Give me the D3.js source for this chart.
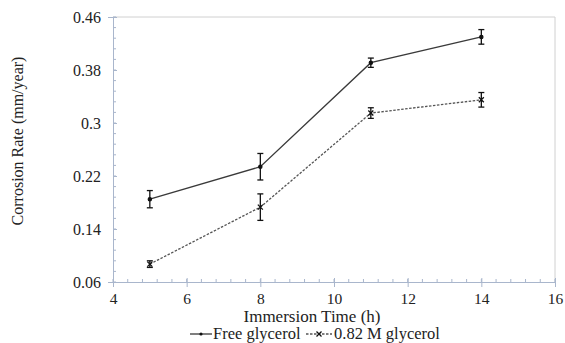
<!DOCTYPE html>
<html lang="en">
<head>
  <meta charset="UTF-8">
  <title>Corrosion Rate vs Immersion Time</title>
  <style>
    body { margin: 0; background: #fff; }
  </style>
</head>
<body>
  <svg width="565" height="343"></svg>
  <script src="https://d3js.org/d3.v7.min.js"></script>
  <script>
    const times = [5, 8, 11, 14];
    const freeGlycerol = [0.185, 0.234, 0.391, 0.430];
    const freeErr = [0.013, 0.020, 0.007, 0.011];
    const glycerol082 = [0.087, 0.173, 0.315, 0.335];
    const glycerolErr = [0.005, 0.020, 0.008, 0.011];
    const xTicks = [4, 6, 8, 10, 12, 14, 16];
    const yTicks = [0.06, 0.14, 0.22, 0.3, 0.38, 0.46];

    const svg = d3.select("svg");
    const m = { left: 113, right: 555, top: 17, bottom: 282 };
    const x = d3.scaleLinear().domain([4, 16]).range([m.left, m.right]);
    const y = d3.scaleLinear().domain([0.06, 0.46]).range([m.bottom, m.top]);
    const axisColor = "#a9b6cc";
    const serif = "'Liberation Serif', 'Times New Roman', serif";
    const txt = (sel, size) => sel.style("font-family", serif).style("font-size", (size || 16) + "px").attr("fill", "#222");

    // frame (top and right)
    svg.append("path")
      .attr("d", `M${m.left},${m.top}H${m.right}V${m.bottom}`)
      .attr("fill", "none").attr("stroke", "#d0d0d0");

    // minor ticks
    const xMinor = d3.range(4, 16.001, 0.4);
    svg.append("g").selectAll("line").data(xMinor).join("line")
      .attr("x1", d => x(d)).attr("x2", d => x(d))
      .attr("y1", m.bottom).attr("y2", m.bottom - 3)
      .attr("stroke", axisColor);
    const yMinor = d3.range(0.06, 0.4601, 0.016);
    svg.append("g").selectAll("line").data(yMinor).join("line")
      .attr("x1", m.left).attr("x2", m.left + 3)
      .attr("y1", d => y(d)).attr("y2", d => y(d))
      .attr("stroke", axisColor);

    // axes
    const xAxis = svg.append("g").attr("transform", `translate(0,${m.bottom})`)
      .call(d3.axisBottom(x).tickValues(xTicks).tickSize(5).tickFormat(d3.format("d")));
    const yAxis = svg.append("g").attr("transform", `translate(${m.left},0)`)
      .call(d3.axisLeft(y).tickValues(yTicks).tickSize(5).tickFormat(d => String(d)));
    [xAxis, yAxis].forEach(g => {
      g.select(".domain").attr("stroke", axisColor);
      g.selectAll(".tick line").attr("stroke", axisColor);
    });
    xAxis.selectAll(".tick text").call(txt, 15.5);
    yAxis.selectAll(".tick text").call(txt, 16);
    xAxis.selectAll(".tick line").attr("y1", -4);
    xAxis.selectAll(".tick text").attr("dy", null).attr("y", 22);
    yAxis.selectAll(".tick line").attr("x2", 4);
    yAxis.selectAll(".tick text").attr("x", -12);

    // axis titles
    svg.append("text").attr("x", 312).attr("y", 322)
      .attr("text-anchor", "middle").call(txt, 17)
      .text("Immersion Time (h)");
    svg.append("text").attr("transform", "translate(23,141) rotate(-90)")
      .attr("text-anchor", "middle").call(txt, 16)
      .text("Corrosion Rate (mm/year)");

    const lineColor = "#3a3a3a";
    function drawSeries(vals, errs, dash, marker) {
      const pts = times.map((t, i) => ({ t, v: vals[i], e: errs[i] }));
      svg.append("path").datum(pts)
        .attr("fill", "none").attr("stroke", dash ? "#555" : lineColor)
        .attr("stroke-width", 1.3)
        .attr("stroke-dasharray", dash ? "2.5,1.5" : null)
        .attr("d", d3.line().x(d => x(d.t)).y(d => y(d.v)));
      const g = svg.append("g").attr("stroke", "#111").attr("stroke-width", 1.3);
      pts.forEach(p => {
        const cx = x(p.t);
        g.append("line").attr("x1", cx).attr("x2", cx).attr("y1", y(p.v - p.e)).attr("y2", y(p.v + p.e));
        g.append("line").attr("x1", cx - 3).attr("x2", cx + 3).attr("y1", y(p.v - p.e)).attr("y2", y(p.v - p.e));
        g.append("line").attr("x1", cx - 3).attr("x2", cx + 3).attr("y1", y(p.v + p.e)).attr("y2", y(p.v + p.e));
        if (marker === "dot") {
          g.append("circle").attr("cx", cx).attr("cy", y(p.v)).attr("r", 1.6).attr("fill", "#111");
        } else {
          const cy = y(p.v);
          g.append("path").attr("d", `M${cx-2.5},${cy-2.5}L${cx+2.5},${cy+2.5}M${cx-2.5},${cy+2.5}L${cx+2.5},${cy-2.5}`);
        }
      });
    }
    drawSeries(freeGlycerol, freeErr, false, "dot");
    drawSeries(glycerol082, glycerolErr, true, "x");

    // legend
    const leg = svg.append("g").attr("transform", "translate(190,334)");
    leg.append("line").attr("x1", 0).attr("x2", 22).attr("y1", 0).attr("y2", 0).attr("stroke", lineColor).attr("stroke-width", 1.3);
    leg.append("circle").attr("cx", 11).attr("cy", 0).attr("r", 1.6).attr("fill", "#111");
    leg.append("text").attr("x", 23).attr("y", 5).call(txt, 16.5).text("Free glycerol");
    leg.append("line").attr("x1", 116).attr("x2", 142).attr("y1", 0).attr("y2", 0)
      .attr("stroke", "#555").attr("stroke-width", 1.3).attr("stroke-dasharray", "2.5,1.5");
    leg.append("path").attr("d", "M126.5,-2.5L131.5,2.5M126.5,2.5L131.5,-2.5").attr("stroke", "#111").attr("stroke-width", 1.3);
    leg.append("text").attr("x", 144).attr("y", 5).call(txt, 16.5).text("0.82 M glycerol");
  </script>
</body>
</html>
